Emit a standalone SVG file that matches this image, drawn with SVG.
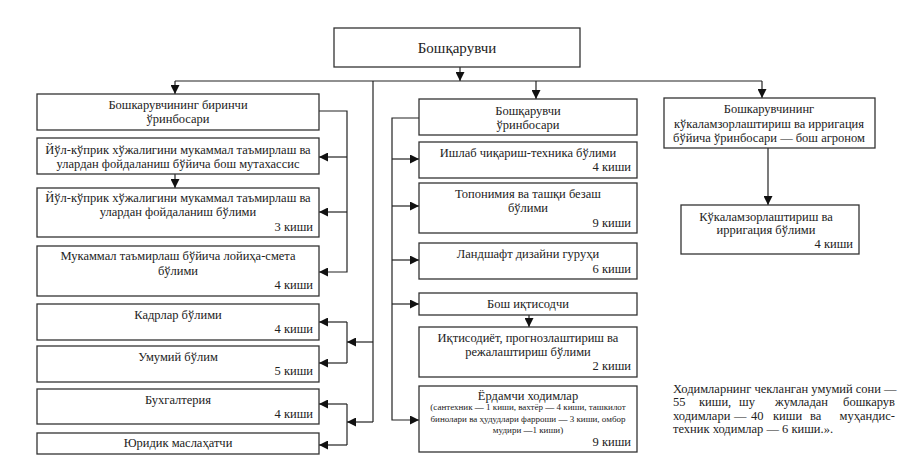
<svg xmlns="http://www.w3.org/2000/svg" width="904" height="461" viewBox="0 0 904 461">
<style>
.box{fill:#fff;stroke:#333;stroke-width:1.3}
.t{font-family:"Liberation Serif","DejaVu Serif","Times New Roman",serif;font-size:12.5px;fill:#222;text-anchor:middle}
.r{text-anchor:end}
.s{font-size:9px}
.big{font-size:15px}
.n{font-family:"Liberation Serif","DejaVu Serif","Times New Roman",serif;font-size:12.5px;fill:#222}
.c{fill:none;stroke:#222;stroke-width:1.2}
</style>
<defs>
<marker id="ah" viewBox="0 0 10 10" refX="10" refY="5" markerWidth="9" markerHeight="9" markerUnits="userSpaceOnUse" orient="auto"><path d="M0,0 L10,5 L0,10 z" fill="#111"/></marker>
</defs>
<rect width="904" height="461" fill="#fff"/>

<g id="connectors">
<path class="c" d="M460,67 V81" marker-end="url(#ah)"/>
<path class="c" d="M175,81 H762"/>
<path class="c" d="M175,81 V94" marker-end="url(#ah)"/>
<path class="c" d="M536,81 V99" marker-end="url(#ah)"/>
<path class="c" d="M762,81 V98" marker-end="url(#ah)"/>
<path class="c" d="M373,81 V422"/>
<path class="c" d="M373,342 H347" marker-end="url(#ah)"/>
<path class="c" d="M373,422 H347" marker-end="url(#ah)"/>
<path class="c" d="M319,111 H347 V272 H319" marker-end="url(#ah)"/>
<path class="c" d="M347,157 H319" marker-end="url(#ah)"/>
<path class="c" d="M347,212 H319" marker-end="url(#ah)"/>
<path class="c" d="M175,174 V188" marker-end="url(#ah)"/>
<path class="c" d="M347,322 V363"/>
<path class="c" d="M347,322 H319" marker-end="url(#ah)"/>
<path class="c" d="M347,363 H319" marker-end="url(#ah)"/>
<path class="c" d="M347,404 V445"/>
<path class="c" d="M347,404 H319" marker-end="url(#ah)"/>
<path class="c" d="M347,445 H319" marker-end="url(#ah)"/>
<path class="c" d="M419,118 H392 V420 H419" marker-end="url(#ah)"/>
<path class="c" d="M392,159 H419" marker-end="url(#ah)"/>
<path class="c" d="M392,206 H419" marker-end="url(#ah)"/>
<path class="c" d="M392,260 H419" marker-end="url(#ah)"/>
<path class="c" d="M392,304 H419" marker-end="url(#ah)"/>
<path class="c" d="M529,315 V327" marker-end="url(#ah)"/>
<path class="c" d="M768,148 V205" marker-end="url(#ah)"/>
</g>

<g id="top">
<rect class="box" x="334" y="28" width="246" height="39"/>
<text class="t big" x="457" y="53">Бошқарувчи</text>
</g>

<g id="l1">
<rect class="box" x="37" y="94" width="282" height="36"/>
<text class="t" x="178" y="109">Бошкарувчининг биринчи</text>
<text class="t" x="178" y="123">ўринбосари</text>
</g>
<g id="l2">
<rect class="box" x="37" y="138" width="282" height="36"/>
<text class="t" x="178" y="154">Йўл-кўприк хўжалигини мукаммал таъмирлаш ва</text>
<text class="t" x="178" y="168">улардан фойдаланиш бўйича бош мутахассис</text>
</g>
<g id="l3">
<rect class="box" x="37" y="188" width="282" height="49"/>
<text class="t" x="178" y="202">Йўл-кўприк хўжалигини мукаммал таъмирлаш ва</text>
<text class="t" x="178" y="216">улардан фойдаланиш бўлими</text>
<text class="t r" x="313" y="231">3 киши</text>
</g>
<g id="l4">
<rect class="box" x="37" y="246" width="282" height="50"/>
<text class="t" x="178" y="260">Мукаммал таъмирлаш бўйича лойиҳа-смета</text>
<text class="t" x="178" y="275">бўлими</text>
<text class="t r" x="313" y="289">4 киши</text>
</g>
<g id="l5">
<rect class="box" x="37" y="304" width="282" height="36"/>
<text class="t" x="178" y="319">Кадрлар бўлими</text>
<text class="t r" x="313" y="333">4 киши</text>
</g>
<g id="l6">
<rect class="box" x="37" y="346" width="282" height="36"/>
<text class="t" x="178" y="361">Умумий бўлим</text>
<text class="t r" x="313" y="375">5 киши</text>
</g>
<g id="l7">
<rect class="box" x="37" y="389" width="282" height="35"/>
<text class="t" x="178" y="404">Бухгалтерия</text>
<text class="t r" x="313" y="418">4 киши</text>
</g>
<g id="l8">
<rect class="box" x="37" y="433" width="282" height="21"/>
<text class="t" x="178" y="447">Юридик маслаҳатчи</text>
</g>

<g id="m1">
<rect class="box" x="419" y="99" width="218" height="36"/>
<text class="t" x="528" y="115">Бошқарувчи</text>
<text class="t" x="528" y="129">ўринбосари</text>
</g>
<g id="m2">
<rect class="box" x="419" y="142" width="218" height="36"/>
<text class="t" x="528" y="157">Ишлаб чиқариш-техника бўлими</text>
<text class="t r" x="631" y="171">4 киши</text>
</g>
<g id="m3">
<rect class="box" x="419" y="183" width="218" height="50"/>
<text class="t" x="528" y="198">Топонимия ва ташқи безаш</text>
<text class="t" x="528" y="212">бўлими</text>
<text class="t r" x="631" y="227">9 киши</text>
</g>
<g id="m4">
<rect class="box" x="419" y="243" width="218" height="36"/>
<text class="t" x="528" y="258">Ландшафт дизайни гуруҳи</text>
<text class="t r" x="631" y="273">6 киши</text>
</g>
<g id="m5">
<rect class="box" x="419" y="293" width="218" height="22"/>
<text class="t" x="528" y="308">Бош иқтисодчи</text>
</g>
<g id="m6">
<rect class="box" x="419" y="327" width="218" height="50"/>
<text class="t" x="528" y="342">Иқтисодиёт, прогнозлаштириш ва</text>
<text class="t" x="528" y="356">режалаштириш бўлими</text>
<text class="t r" x="631" y="370">2 киши</text>
</g>
<g id="m7">
<rect class="box" x="419" y="386" width="218" height="66"/>
<text class="t" x="528" y="400">Ёрдамчи ходимлар</text>
<text class="t s" x="528" y="410">(сантехник — 1 киши, вахтёр — 4 киши, ташкилот</text>
<text class="t s" x="528" y="422">бинолари ва ҳудудлари фарроши — 3 киши, омбор</text>
<text class="t s" x="528" y="433">мудири —1 киши)</text>
<text class="t r" x="631" y="446">9 киши</text>
</g>

<g id="r1">
<rect class="box" x="664" y="98" width="211" height="50"/>
<text class="t" x="769" y="113">Бошкарувчининг</text>
<text class="t" x="769" y="128">кўкаламзорлаштириш ва ирригация</text>
<text class="t" x="769" y="142">бўйича ўринбосари — бош агроном</text>
</g>
<g id="r2">
<rect class="box" x="681" y="205" width="178" height="49"/>
<text class="t" x="766" y="221">Кўкаламзорлаштириш ва</text>
<text class="t" x="766" y="234">ирригация бўлими</text>
<text class="t r" x="853" y="248">4 киши</text>
</g>

<g id="note">
<text class="n" x="673" y="393">Ходимларнинг чекланган умумий сони —</text>
<text class="n" x="673" y="406">55</text>
<text class="n" x="699" y="406">киши,</text>
<text class="n" x="739" y="406">шу</text>
<text class="n" x="775" y="406">жумладан</text>
<text class="n" x="895" y="406" text-anchor="end">бошкарув</text>
<text class="n" x="673" y="420">ходимлари</text>
<text class="n" x="734" y="420">—</text>
<text class="n" x="751" y="420">40</text>
<text class="n" x="773" y="420">киши</text>
<text class="n" x="810" y="420">ва</text>
<text class="n" x="895" y="420" text-anchor="end">муҳандис-</text>
<text class="n" x="673" y="433">техник ходимлар — 6 киши.».</text>
</g>
</svg>
